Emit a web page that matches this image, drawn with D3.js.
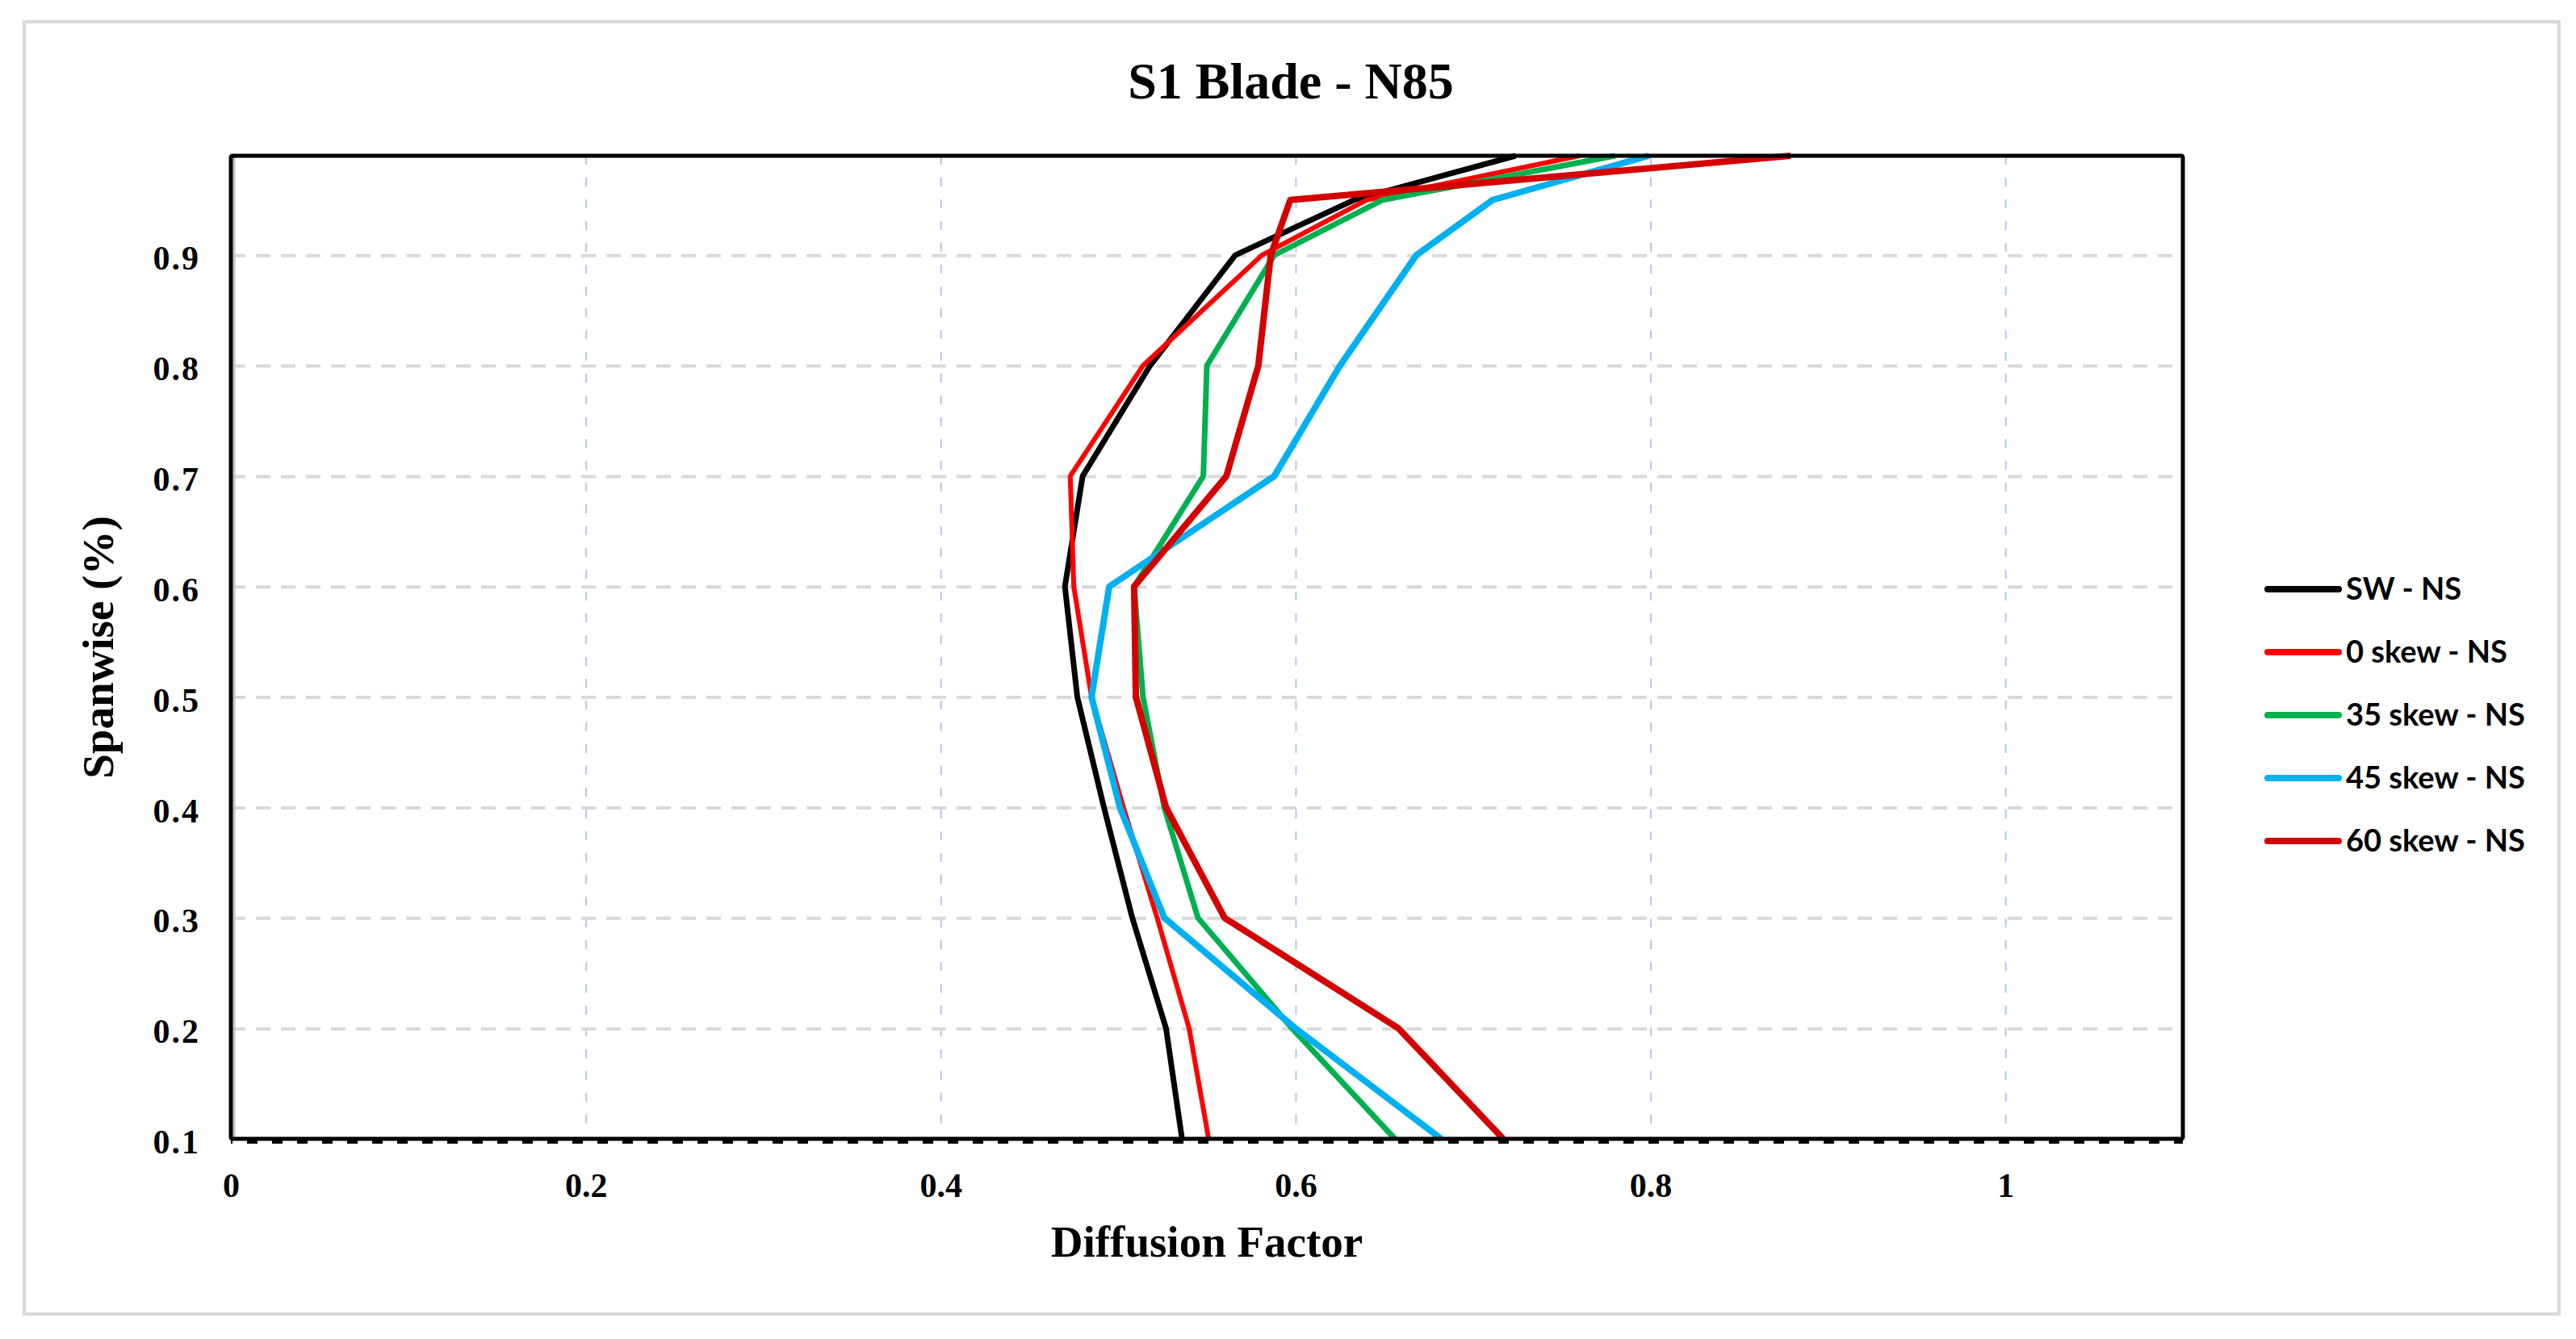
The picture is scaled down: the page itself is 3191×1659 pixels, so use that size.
<!DOCTYPE html>
<html>
  <head>
    <title>S1 Blade - N85</title>
    <script src="https://cdnjs.cloudflare.com/ajax/libs/d3/7.8.5/d3.min.js"></script>
    <style>
      body { margin: 0; background: #fff; }
    </style>
  </head>
  <body>
    <script type="text/javascript">

    // spanwise stations (y) and diffusion factor per case (x)
    let span = [0.1, 0.2, 0.3, 0.4, 0.5, 0.6, 0.7, 0.8, 0.9, 0.95, 0.99]
    let swNS     = [0.536, 0.527, 0.508, 0.492, 0.477, 0.470, 0.480, 0.518, 0.566, 0.633, 0.724]
    let skew0NS  = [0.551, 0.540, 0.522, 0.503, 0.485, 0.475, 0.473, 0.514, 0.581, 0.640, 0.760]
    let skew35NS = [0.656, 0.598, 0.545, 0.526, 0.514, 0.509, 0.548, 0.550, 0.588, 0.649, 0.780]
    let skew45NS = [0.682, 0.600, 0.526, 0.501, 0.485, 0.495, 0.588, 0.625, 0.668, 0.711, 0.799]
    let skew60NS = [0.717, 0.658, 0.560, 0.527, 0.510, 0.509, 0.561, 0.579, 0.586, 0.597, 0.879]

    let seriesNames = ["SW - NS", "0 skew - NS", "35 skew - NS", "45 skew - NS", "60 skew - NS"]
    let seriesValues = [swNS, skew0NS, skew35NS, skew45NS, skew60NS]
    let seriesColors = ["#000000", "#ff0000", "#00b050", "#00b0f0", "#d40000"]
    let seriesWidths = [7, 6, 7, 8, 8]

    let xTicks = [0, 0.2, 0.4, 0.6, 0.8, 1]
    let yTicks = [0.1, 0.2, 0.3, 0.4, 0.5, 0.6, 0.7, 0.8, 0.9]

    let outerWidth = 3191;
    let outerHeight = 1659;
    let margin = { left: 286, top: 193, right: 487, bottom: 248 }
    let innerWidth = outerWidth - margin.left - margin.right;
    let innerHeight = outerHeight - margin.top - margin.bottom;

    let serif = "'Liberation Serif', 'Times New Roman', serif"

    let svg = d3.select("body").append("svg")
      .attr("width", outerWidth)
      .attr("height", outerHeight)

    // outer chart border
    svg.append("rect")
      .attr("x", 30).attr("y", 27)
      .attr("width", 3140).attr("height", 1601)
      .attr("fill", "none")
      .attr("stroke", "#d9d9d9")
      .attr("stroke-width", 4)

    svg.append("text")
      .attr("x", 1599).attr("y", 122)
      .attr("text-anchor", "middle")
      .style("font-family", serif)
      .style("font-weight", "bold")
      .style("font-size", "64px")
      .text("S1 Blade - N85")

    let g = svg.append("g")
      .attr("transform", "translate(" + margin.left + "," + margin.top + ")");

    let xScale = d3.scaleLinear().domain([0, 1.1]).range([0, innerWidth]);
    let yScale = d3.scaleLinear().domain([0.1, 0.99]).range([innerHeight, 0]);

    // vertical gridlines (light blue dashed)
    g.append("g")
      .call(d3.axisBottom(xScale).tickValues(xTicks.slice(1)).tickSize(innerHeight).tickFormat(""))
      .call(a => a.select(".domain").remove())
      .call(a => a.selectAll("text").remove())
      .call(a => a.selectAll("line")
        .attr("stroke", "#b4c7e7")
        .attr("stroke-width", 2)
        .attr("stroke-dasharray", "11,16"))

    // horizontal gridlines (grey dashed)
    g.append("g")
      .call(d3.axisLeft(yScale).tickValues(yTicks.slice(1)).tickSize(-innerWidth).tickFormat(""))
      .call(a => a.select(".domain").remove())
      .call(a => a.selectAll("text").remove())
      .call(a => a.selectAll("line")
        .attr("stroke", "#d9d9d9")
        .attr("stroke-width", 4)
        .attr("stroke-dasharray", "18,13"))

    // bottom axis: dashed band just below the frame
    g.append("line")
      .attr("x1", 0).attr("x2", innerWidth)
      .attr("y1", innerHeight + 3).attr("y2", innerHeight + 3)
      .attr("stroke", "#000")
      .attr("stroke-width", 6)
      .attr("stroke-dasharray", "13,18")
      .attr("stroke-dashoffset", -20)

    let line = d3.line()
      .x(function(d) { return xScale(d[0]); })
      .y(function(d) { return yScale(d[1]); })

    seriesValues.forEach(function(vals, i) {
      g.append("path")
        .datum(vals.map(function(v, j) { return [v, span[j]]; }))
        .attr("fill", "none")
        .attr("stroke", seriesColors[i])
        .attr("stroke-width", seriesWidths[i])
        .attr("stroke-linejoin", "round")
        .attr("d", line)
    })

    // plot frame
    g.append("line")
      .attr("x1", 4).attr("x2", 4).attr("y1", 0).attr("y2", innerHeight)
      .attr("stroke", "#bfbfbf").attr("stroke-width", 3)
    g.append("rect")
      .attr("x", 0).attr("y", 0)
      .attr("width", innerWidth).attr("height", innerHeight)
      .attr("fill", "none")
      .attr("stroke", "#000")
      .attr("stroke-width", 5)
      .attr("rx", 2)

    // tick labels
    g.append("g")
      .attr("font-family", serif)
      .attr("font-size", 42)
      .attr("font-weight", "bold")
      .call(d3.axisLeft(yScale).tickValues(yTicks).tickSize(0).tickPadding(38).tickFormat(d3.format(".1f")))
      .call(a => a.select(".domain").remove())
      .call(a => a.attr("font-family", serif).attr("font-size", 42))
      .call(a => a.selectAll("text")
        .attr("dy", "0.42em")
        .style("letter-spacing", "2px"))

    g.append("g")
      .attr("transform", "translate(0," + innerHeight + ")")
      .call(d3.axisBottom(xScale).tickValues(xTicks).tickSize(0).tickPadding(42).tickFormat(d3.format("~g")))
      .call(a => a.select(".domain").remove())
      .call(a => a.attr("font-family", serif).attr("font-size", 42).attr("font-weight", "bold"))

    // axis titles
    svg.append("text")
      .attr("x", margin.left + innerWidth / 2).attr("y", 1557)
      .attr("text-anchor", "middle")
      .style("font-family", serif)
      .style("font-weight", "bold")
      .style("font-size", "55px")
      .text("Diffusion Factor")

    svg.append("text")
      .attr("transform", "translate(140," + (margin.top + innerHeight / 2) + ") rotate(-90)")
      .attr("text-anchor", "middle")
      .style("font-family", serif)
      .style("font-weight", "bold")
      .style("font-size", "55px")
      .text("Spanwise (%)")

    // legend
    let legend = svg.append("g").attr("transform", "translate(2805,730)")
    seriesNames.forEach(function(name, i) {
      let row = legend.append("g").attr("transform", "translate(0," + (i * 78) + ")")
      row.append("line")
        .attr("x1", 4).attr("x2", 92)
        .attr("stroke", seriesColors[i])
        .attr("stroke-width", 8)
        .attr("stroke-linecap", "round")
      row.append("text")
        .attr("x", 101).attr("y", 13)
        .style("font-family", "Lato, 'Open Sans', sans-serif")
        .style("font-weight", "bold")
        .style("font-size", "38px")
        .text(name)
    })

    </script>
  </body>
</html>
